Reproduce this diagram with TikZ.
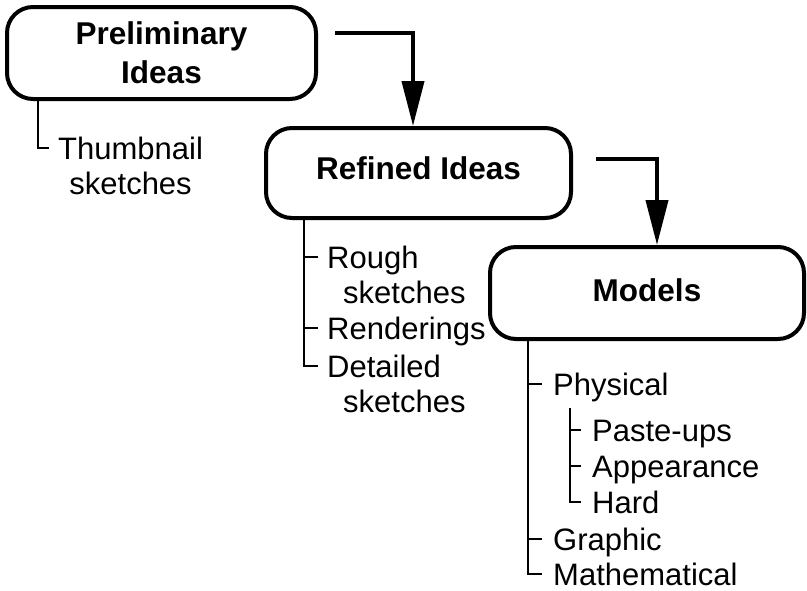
\documentclass[tikz,border=0pt]{standalone}
\usepackage{fontspec}
\setmainfont{Liberation Sans}
\usetikzlibrary{arrows.meta}
\begin{document}
\begin{tikzpicture}[x=1pt,y=-1pt,
  stage/.style={draw, line width=4pt, rounded corners=26pt, inner sep=0pt,
    align=center, font=\fontsize{31.5}{39}\selectfont\bfseries},
  item/.style={anchor=base west, inner sep=0pt, align=left,
    font=\fontsize{31}{35}\selectfont},
  branch/.style={line width=2pt},
  flow/.style={line width=4pt, -{Triangle[length=45pt,width=22pt]}}]
\useasboundingbox (0,0) rectangle (807,590);

% the three stages
\node[stage, minimum width=309pt, minimum height=92pt] (prelim) at (161.5,53) {Preliminary\\Ideas};
\node[stage, minimum width=305pt, minimum height=90pt, text depth=9pt] (ref) at (418.5,173) {Refined Ideas};
\node[stage, minimum width=314pt, minimum height=92pt, text depth=6pt] (mod) at (647,293) {Models};

% flow between the stages
\coordinate (s1) at (335,33);
\coordinate (k1) at (413,33);
\draw[flow] (s1) -- (k1) -- (k1 |- ref.north);
\coordinate (s2) at (596,159);
\coordinate (k2) at (657,159);
\draw[flow] (s2) -- (k2) -- (k2 |- mod.north);

% items under each stage (two-line items sit on their last baseline)
\node[item, align=center] (thumb) at (58,194) {Thumbnail\\sketches};

\node[item] (rough) at (327,303) {Rough\\\hspace*{16pt}sketches};
\node[item] (rend)  at (327,339) {Renderings};
\node[item] (det)   at (327,412) {Detailed\\\hspace*{16pt}sketches};

\node[item] (phys)   at (553,395) {Physical};
\node[item] (paste)  at (592,441) {Paste-ups};
\node[item] (appear) at (592,477) {Appearance};
\node[item] (hard)   at (592,513) {Hard};
\node[item] (graph)  at (553,550) {Graphic};
\node[item] (math)   at (553,585) {Mathematical};

% tick points just left of the first line of each item
\foreach \n/\g/\r in {thumb/9/46, rough/9/46, rend/9/11, det/9/46, phys/11/11,
    paste/11/11, appear/11/11, hard/11/11, graph/11/11, math/11/11}
  \coordinate (\n-t) at ([xshift=-\g pt, yshift=\r pt]\n.base west);

% branch lines
\coordinate (px) at (38,0);
\draw[branch] (prelim.south -| px) |- (thumb-t);

\coordinate (rx) at (304,0);
\draw[branch] (ref.south -| rx) |- (det-t);
\draw[branch] (rough-t) -- (rough-t -| rx);
\draw[branch] (rend-t) -- (rend-t -| rx);

\coordinate (mx) at (528,0);
\draw[branch] (mod.south -| mx) |- (math-t);
\draw[branch] (phys-t) -- (phys-t -| mx);
\draw[branch] (graph-t) -- (graph-t -| mx);

\coordinate (sx) at (570,0);
\coordinate (ps) at ([yshift=-13pt]phys.base west);
\draw[branch] (ps -| sx) |- (hard-t);
\draw[branch] (paste-t) -- (paste-t -| sx);
\draw[branch] (appear-t) -- (appear-t -| sx);
\end{tikzpicture}
\end{document}
